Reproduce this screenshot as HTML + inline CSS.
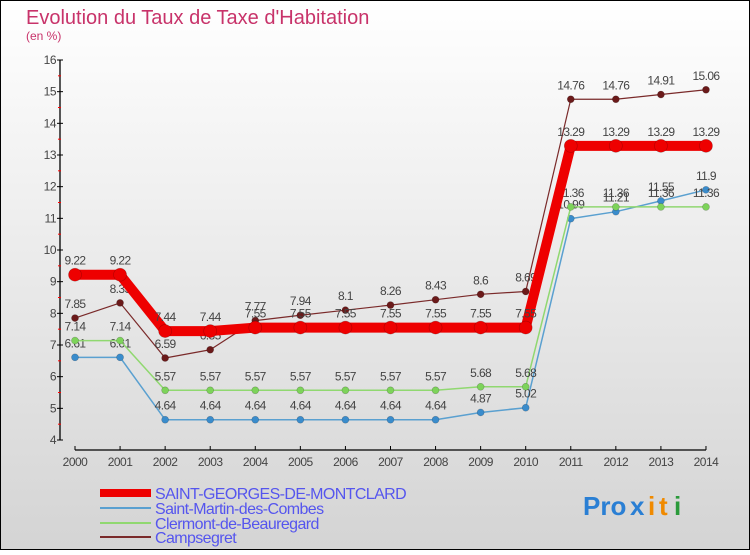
<!DOCTYPE html>
<html><head><meta charset="utf-8"><style>
html,body{margin:0;padding:0}
body{width:750px;height:550px;overflow:hidden;font-family:"Liberation Sans",sans-serif}
</style></head><body>
<svg id="chart" width="750" height="550" xmlns="http://www.w3.org/2000/svg">
<defs><linearGradient id="bg" x1="0" y1="0" x2="0" y2="1"><stop offset="0" stop-color="#ffffff"/><stop offset="1" stop-color="#d4d4d4"/></linearGradient></defs>
<rect x="0.5" y="0.5" width="749" height="549" fill="url(#bg)" stroke="#000"/>
<text x="26" y="24" font-size="20" fill="#c8336a">Evolution du Taux de Taxe d'Habitation</text>
<text x="26" y="40" font-size="12" fill="#c8336a">(en %)</text>
<g id="axes"></g><g id="series"></g><g id="legend"></g>
<g font-size="26" font-weight="bold">
<text x="583" y="515" fill="#2a7fd4">Pro</text><text x="630" y="515" fill="#2a7fd4">x</text><text x="648" y="515" fill="#f08a00">i</text><text x="659" y="515" fill="#f08a00">t</text><text x="674" y="515" fill="#2a9a3a">i</text>
</g>
</svg>
<script>
const years=["2000","2001","2002","2003","2004","2005","2006","2007","2008","2009","2010","2011","2012","2013","2014"];
const yTicks=[4,5,6,7,8,9,10,11,12,13,14,15,16];
const seriesNames=["SAINT-GEORGES-DE-MONTCLARD","Saint-Martin-des-Combes","Clermont-de-Beauregard","Campsegret"];
const saintGeorges=[9.22,9.22,7.44,7.44,7.55,7.55,7.55,7.55,7.55,7.55,7.55,13.29,13.29,13.29,13.29];
const saintMartin=[6.61,6.61,4.64,4.64,4.64,4.64,4.64,4.64,4.64,4.87,5.02,10.99,11.21,11.55,11.9];
const clermont=[7.14,7.14,5.57,5.57,5.57,5.57,5.57,5.57,5.57,5.68,5.68,11.36,11.36,11.36,11.36];
const campsegret=[7.85,8.33,6.59,6.85,7.77,7.94,8.1,8.26,8.43,8.6,8.69,14.76,14.76,14.91,15.06];
const NS="http://www.w3.org/2000/svg";
const X=i=>75+i*45.07, Y=v=>440-(v-4)*31.667;
function mk(p,t,a){const e=document.createElementNS(NS,t);for(const k in a)e.setAttribute(k,a[k]);p.appendChild(e);return e;}
const axes=document.getElementById('axes');
let l=mk(axes,'line',{x1:60,y1:60,x2:60,y2:440,stroke:'#000','stroke-width':1.3});


yTicks.forEach(v=>{
 mk(axes,'line',{x1:57,y1:Y(v),x2:63,y2:Y(v),stroke:'#000'});
 if(v<16)mk(axes,'line',{x1:58,y1:Y(v+0.5),x2:61,y2:Y(v+0.5),stroke:'#f00'});
 const t=mk(axes,'text',{x:56,y:Y(v)+4,'text-anchor':'end','font-size':12,fill:'#444','letter-spacing':'-0.5'});
 
 
 t.textContent=v;
});
l=mk(axes,'line',{x1:X(0),y1:450,x2:X(14),y2:450,stroke:'#000','stroke-width':1.3});


years.forEach((y,i)=>{
 mk(axes,'line',{x1:X(i),y1:446,x2:X(i),y2:450,stroke:'#000'});
 const t=mk(axes,'text',{x:X(i),y:466,'text-anchor':'middle','font-size':12,fill:'#444','letter-spacing':'-0.5'});
 
 
 t.textContent=y;
});
const styles=[
 {d:saintGeorges,c:'#ee0000',mc:'#ee0000',w:10,r:6.5,n:'saint-georges'},
 {d:saintMartin,c:'#5aa0d0',mc:'#3a8ccc',w:1.5,r:3.5,n:'saint-martin'},
 {d:clermont,c:'#90d870',mc:'#7dd35a',w:1.5,r:3.5,n:'clermont'},
 {d:campsegret,c:'#7a2a2a',mc:'#6b1a1a',w:1.2,r:3.5,n:'campsegret'}];
const sg=document.getElementById('series');
[1,2,3,0].forEach(k=>{
 const s=styles[k];
 const g=mk(sg,'g',{});
 
 
 const p=mk(g,'polyline',{points:s.d.map((v,i)=>X(i)+','+Y(v)).join(' '),fill:'none',stroke:s.c,'stroke-width':s.w,'stroke-linejoin':'round'});
 
 
 s.d.forEach((v,i)=>{
  const c=mk(g,'circle',{cx:X(i),cy:Y(v),r:s.r,fill:s.mc,stroke:'rgba(0,0,0,0.25)','stroke-width':0.6});
  
  
  const t=mk(g,'text',{x:X(i),y:Y(v)-10,'text-anchor':'middle','font-size':12,fill:'#444','letter-spacing':'-0.6'});
  
  
  t.textContent=v;
 });
});
const lg=document.getElementById('legend');
const ly=[493,508,523,537];
styles.forEach((s,k)=>{
 const g=mk(lg,'g',{});
 
 
 if(k==0)mk(g,'rect',{x:100,y:489,width:51,height:8,fill:s.c});
 else mk(g,'line',{x1:100,y1:ly[k],x2:151,y2:ly[k],stroke:s.c,'stroke-width':2});
 const t=mk(g,'text',{x:155,y:ly[k]+6,'font-size':16,fill:'#5555ee','letter-spacing':'-0.6'});
 t.textContent=seriesNames[k];
});
</script>
</body></html>
